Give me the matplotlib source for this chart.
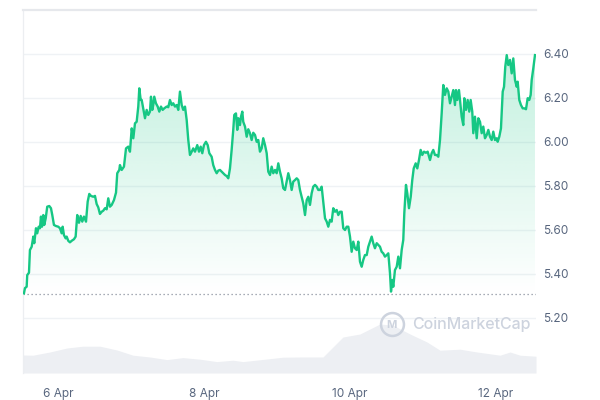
import datetime as dt

import matplotlib

matplotlib.use("Agg")
import matplotlib.dates as mdates
import matplotlib.pyplot as plt
import numpy as np
import pandas as pd

# Price series: days since 6 Apr 00:00, price in USD
PRICE_DAYS = [
    -0.466, -0.452, -0.429, -0.421, -0.397, -0.384, -0.360, -0.338, -0.325, -0.301,
    -0.284, -0.264, -0.247, -0.233, -0.219, -0.201, -0.188, -0.168, -0.147, -0.119,
    -0.096, -0.078, -0.055, -0.027, 0.004, 0.027, 0.051, 0.064, 0.082, 0.105,
    0.119, 0.141, 0.164, 0.188, 0.219, 0.242, 0.264, 0.288, 0.311, 0.333,
    0.356, 0.384, 0.407, 0.429, 0.452, 0.484, 0.507, 0.530, 0.552, 0.575,
    0.599, 0.621, 0.644, 0.667, 0.689, 0.712, 0.736, 0.767, 0.795, 0.812,
    0.840, 0.849, 0.873, 0.904, 0.932, 0.963, 0.986, 1.010, 1.032, 1.055,
    1.078, 1.100, 1.114, 1.133, 1.147, 1.168, 1.192, 1.215, 1.237, 1.260,
    1.274, 1.292, 1.305, 1.319, 1.342, 1.366, 1.388, 1.411, 1.434, 1.456,
    1.489, 1.511, 1.534, 1.558, 1.579, 1.603, 1.626, 1.648, 1.671, 1.695,
    1.716, 1.740, 1.763, 1.785, 1.808, 1.832, 1.853, 1.877, 1.908, 1.932,
    1.955, 1.977, 2.000, 2.027, 2.051, 2.073, 2.105, 2.127, 2.151, 2.174,
    2.196, 2.219, 2.264, 2.288, 2.311, 2.333, 2.356, 2.379, 2.401, 2.415,
    2.438, 2.456, 2.470, 2.493, 2.507, 2.525, 2.538, 2.562, 2.585, 2.607,
    2.630, 2.653, 2.675, 2.699, 2.722, 2.744, 2.767, 2.790, 2.812, 2.836,
    2.859, 2.881, 2.904, 2.927, 2.949, 2.973, 2.996, 3.018, 3.041, 3.064,
    3.086, 3.110, 3.133, 3.155, 3.178, 3.201, 3.223, 3.247, 3.270, 3.292,
    3.315, 3.338, 3.360, 3.384, 3.407, 3.429, 3.452, 3.475, 3.497, 3.521,
    3.544, 3.566, 3.589, 3.612, 3.634, 3.658, 3.681, 3.703, 3.726, 3.749,
    3.771, 3.795, 3.818, 3.840, 3.863, 3.886, 3.908, 3.932, 3.955, 3.977,
    4.000, 4.023, 4.045, 4.068, 4.092, 4.114, 4.137, 4.160, 4.182, 4.205,
    4.229, 4.251, 4.274, 4.297, 4.319, 4.342, 4.366, 4.388, 4.411, 4.434,
    4.456, 4.479, 4.503, 4.525, 4.548, 4.562, 4.579, 4.593, 4.616, 4.640,
    4.662, 4.685, 4.708, 4.730, 4.744, 4.767, 4.785, 4.808, 4.832, 4.853,
    4.873, 4.900, 4.922, 4.945, 4.968, 4.990, 5.014, 5.041, 5.064, 5.096,
    5.119, 5.141, 5.164, 5.188, 5.210, 5.233, 5.256, 5.278, 5.301, 5.325,
    5.347, 5.370, 5.393, 5.415, 5.438, 5.452, 5.470, 5.493, 5.516, 5.530,
    5.552, 5.566, 5.589, 5.612, 5.634, 5.653, 5.675, 5.689, 5.712, 5.736,
    5.758, 5.781, 5.804, 5.826, 5.849, 5.873, 5.895, 5.918, 5.941, 5.963,
    5.986, 6.010, 6.023, 6.045, 6.068, 6.092, 6.110, 6.127, 6.147, 6.168,
    6.192, 6.215, 6.237, 6.260, 6.284, 6.297, 6.319, 6.342, 6.366, 6.388,
    6.411, 6.434, 6.456, 6.475, 6.489, 6.511, 6.534,
]
PRICE = [
    5.312, 5.336, 5.342, 5.395, 5.406, 5.509, 5.524, 5.570, 5.540, 5.608,
    5.585, 5.615, 5.608, 5.661, 5.615, 5.668, 5.623, 5.653, 5.706, 5.709,
    5.699, 5.668, 5.623, 5.618, 5.615, 5.608, 5.585, 5.615, 5.577, 5.562,
    5.570, 5.551, 5.544, 5.551, 5.558, 5.570, 5.668, 5.633, 5.664, 5.638,
    5.661, 5.638, 5.729, 5.764, 5.755, 5.751, 5.755, 5.718, 5.703, 5.673,
    5.683, 5.688, 5.699, 5.694, 5.744, 5.706, 5.714, 5.736, 5.770, 5.858,
    5.873, 5.895, 5.873, 5.888, 5.971, 5.979, 5.956, 6.062, 6.017, 6.085,
    6.092, 6.161, 6.244, 6.191, 6.191, 6.153, 6.108, 6.146, 6.123, 6.138,
    6.206, 6.146, 6.168, 6.206, 6.176, 6.161, 6.138, 6.161, 6.146, 6.153,
    6.161, 6.158, 6.191, 6.168, 6.176, 6.161, 6.168, 6.146, 6.229, 6.168,
    6.146, 6.161, 6.100, 6.009, 5.941, 5.956, 5.971, 5.956, 5.986, 5.956,
    5.979, 5.949, 5.986, 6.001, 5.986, 5.949, 5.933, 5.895, 5.873, 5.858,
    5.870, 5.873, 5.858, 5.850, 5.845, 5.835, 5.880, 5.964, 6.055, 6.123,
    6.130, 6.055, 6.108, 6.077, 6.115, 6.138, 6.092, 6.070, 6.024, 6.058,
    6.040, 6.009, 6.042, 6.032, 6.001, 6.009, 5.956, 5.971, 6.017, 5.986,
    5.949, 5.865, 5.850, 5.888, 5.858, 5.873, 5.858, 5.903, 5.865, 5.835,
    5.790, 5.782, 5.820, 5.858, 5.827, 5.782, 5.820, 5.827, 5.835, 5.827,
    5.782, 5.751, 5.721, 5.668, 5.736, 5.751, 5.714, 5.767, 5.797, 5.805,
    5.797, 5.782, 5.782, 5.797, 5.729, 5.653, 5.638, 5.615, 5.646, 5.638,
    5.699, 5.683, 5.691, 5.668, 5.683, 5.683, 5.608, 5.600, 5.615, 5.615,
    5.570, 5.501, 5.547, 5.517, 5.509, 5.547, 5.456, 5.433, 5.464, 5.486,
    5.486, 5.524, 5.547, 5.570, 5.540, 5.517, 5.540, 5.532, 5.524, 5.501,
    5.494, 5.479, 5.486, 5.494, 5.403, 5.320, 5.373, 5.342, 5.418, 5.433,
    5.479, 5.426, 5.509, 5.555, 5.676, 5.805, 5.767, 5.699, 5.751, 5.827,
    5.880, 5.903, 5.880, 5.918, 5.964, 5.941, 5.956, 5.951, 5.956, 5.918,
    5.949, 5.964, 5.941, 5.941, 5.933, 6.009, 6.130, 6.259, 6.214, 6.244,
    6.229, 6.176, 6.206, 6.236, 6.168, 6.236, 6.191, 6.236, 6.161, 6.115,
    6.077, 6.199, 6.146, 6.191, 6.138, 6.191, 6.138, 6.040, 6.115, 6.017,
    6.108, 6.092, 6.040, 6.070, 6.017, 6.032, 6.055, 6.024, 6.009, 6.047,
    6.009, 6.017, 6.001, 6.024, 6.062, 6.229, 6.251, 6.342, 6.395, 6.350,
    6.373, 6.312, 6.380, 6.282, 6.251, 6.274, 6.191, 6.168, 6.153, 6.153,
    6.149, 6.199, 6.191, 6.214, 6.282, 6.335, 6.395,
]

# Trading volume (millions USD, rough), days since 6 Apr 00:00
VOLUME_DAYS = [
    -0.479, -0.342, -0.110, 0.123, 0.342, 0.575, 0.808, 1.027, 1.260, 1.493,
    1.712, 1.945, 2.178, 2.397, 2.534, 2.863, 3.082, 3.315, 3.630, 3.904,
    4.137, 4.411, 4.589, 4.822, 5.055, 5.233, 5.507, 5.740, 6.055, 6.192,
    6.329, 6.548,
]
VOLUME = [
    9.0, 8.9, 10.5, 12.5, 13.4, 13.4, 11.5, 8.9, 8.0, 6.7,
    7.7, 6.9, 5.7, 6.4, 5.7, 7.0, 7.9, 8.0, 8.0, 18.0,
    19.5, 24.5, 23.9, 19.5, 15.5, 11.4, 11.9, 10.5, 8.9, 10.5,
    8.9, 8.4,
]

BASELINE = 5.31
Y_TICKS = [5.20, 5.40, 5.60, 5.80, 6.00, 6.20, 6.40]
X_TICK_DAYS = [6, 8, 10, 12]

GREEN = "#16c784"
TEXT_GRAY = "#58667e"
GRID = "#eff2f5"

plt.rcParams["font.family"] = ["Inter", "DejaVu Sans"]

day0 = dt.datetime(2024, 4, 6)
t = mdates.date2num(day0 + pd.to_timedelta(PRICE_DAYS, unit="D"))
tv = mdates.date2num(day0 + pd.to_timedelta(VOLUME_DAYS, unit="D"))
x0 = mdates.date2num(day0 + pd.Timedelta(days=-0.479))
x1 = mdates.date2num(day0 + pd.Timedelta(days=6.548))

fig = plt.figure(figsize=(6, 4), dpi=100)
ax = fig.add_axes([23 / 600, 1 - 373 / 400, 513 / 600, 363 / 400])

# volume on a twin axis, kept low in the panel
axv = ax.twinx()
axv.fill_between(tv, VOLUME, 0, color="#edeff3", lw=0, zorder=1)
axv.set_ylim(0, 181.5)
axv.set_yticks([])
for s in axv.spines.values():
    s.set_visible(False)

# gradient fill between price and opening price
rgba = np.zeros((256, 1, 4))
rgba[..., 0], rgba[..., 1], rgba[..., 2] = matplotlib.colors.to_rgb(GREEN)
rgba[..., 3] = np.linspace(0.0, 0.26, 256)[:, None]
im = ax.imshow(rgba, extent=[x0, x1, BASELINE, max(PRICE)], origin="lower",
               aspect="auto", zorder=1, interpolation="bilinear")
poly = ax.fill_between(t, PRICE, BASELINE, color="none", lw=0)
im.set_clip_path(poly.get_paths()[0], transform=ax.transData)

ax.plot(t, PRICE, color=GREEN, lw=1.7, zorder=3, solid_joinstyle="round")
ax.axhline(BASELINE, color="#8a919e", lw=0.9, ls=(0, (1, 2.2)), zorder=2)

ax.set_xlim(x0, x1)
ax.set_ylim(4.95, 6.60)
ax.set_yticks(Y_TICKS)
ax.set_yticklabels([f"{v:.2f}" for v in Y_TICKS])
ax.yaxis.tick_right()
ax.grid(axis="y", color=GRID, lw=1, zorder=0)
ax.set_axisbelow(True)
ax.set_xticks(mdates.date2num([dt.datetime(2024, 4, d) for d in X_TICK_DAYS]))
ax.set_xticklabels([f"{d} Apr" for d in X_TICK_DAYS])
ax.tick_params(axis="both", length=0, labelsize=8.5, labelcolor=TEXT_GRAY)
ax.tick_params(axis="x", pad=11)
ax.tick_params(axis="y", pad=5)

for side in ["right", "bottom"]:
    ax.spines[side].set_visible(False)
ax.spines["top"].set_color("#e6e8ec")
ax.spines["top"].set_linewidth(1.6)
ax.spines["left"].set_color("#eceef1")
ax.spines["left"].set_linewidth(0.9)
ax.set_zorder(axv.get_zorder() + 1)
ax.patch.set_visible(False)

# watermark
wm = "#cdd3de"
ax.plot([0.719], [0.135], transform=ax.transAxes, marker="o", ms=16.5,
        mfc="none", mec=wm, mew=1.8, zorder=4)
ax.text(0.719, 0.133, "M", transform=ax.transAxes, ha="center", va="center",
        fontsize=8, color=wm, fontweight="bold", zorder=4)
ax.text(0.758, 0.133, "CoinMarketCap", transform=ax.transAxes, ha="left",
        va="center", fontsize=11.5, color=wm, fontweight="medium", zorder=4)

fig.savefig("out.png", dpi=100, facecolor="white")
